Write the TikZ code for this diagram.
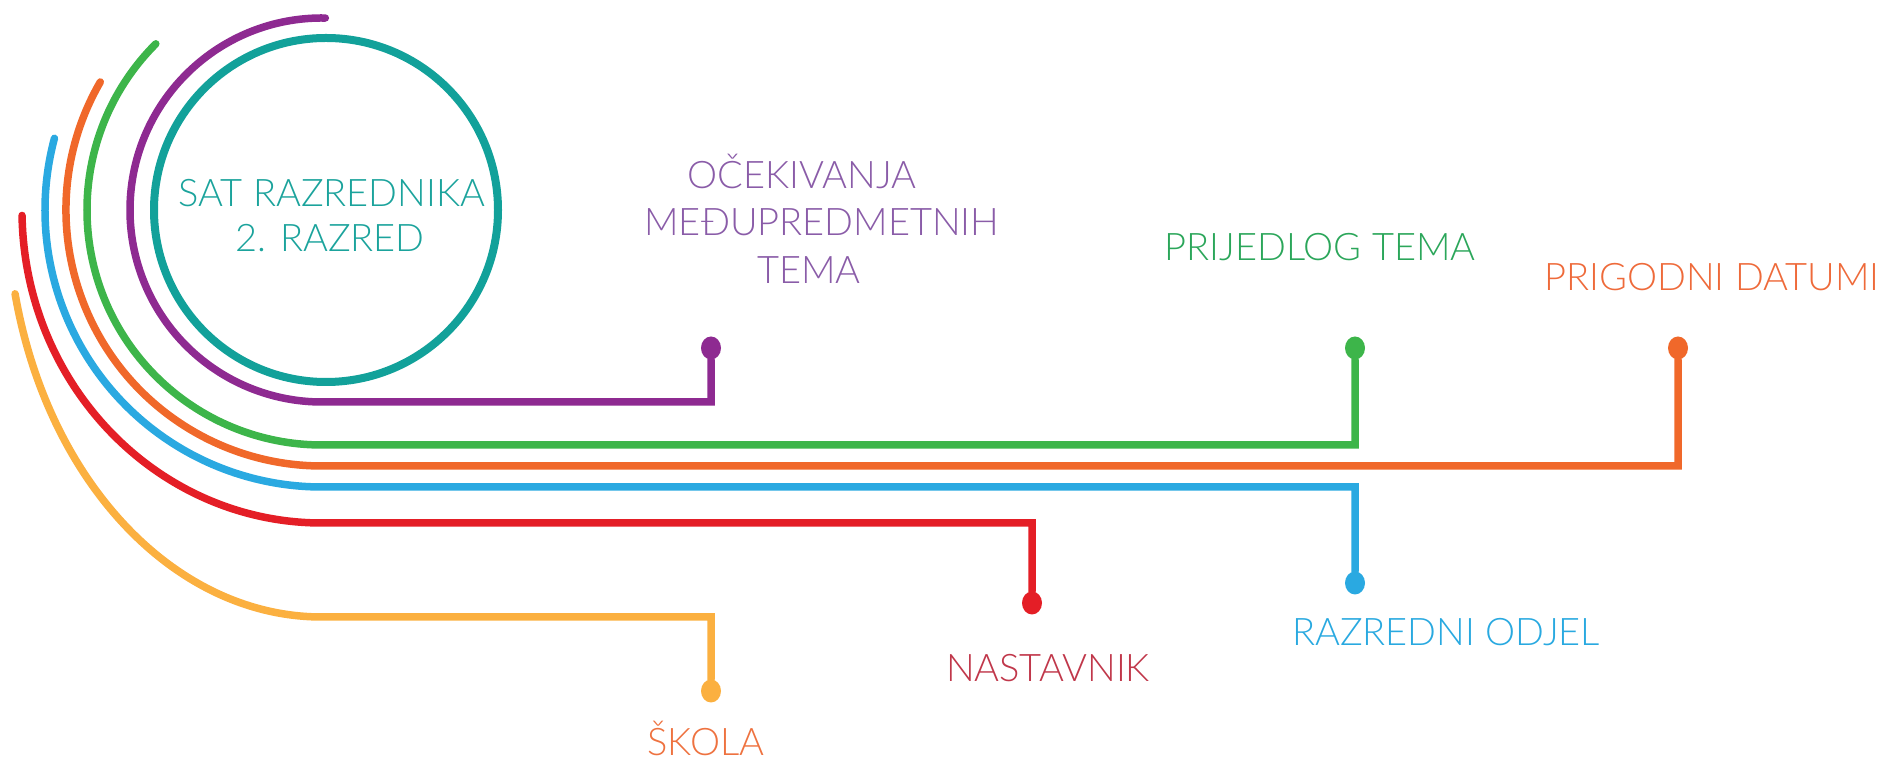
\documentclass[tikz,border=0pt]{standalone}
\usepackage{fontspec}
\setmainfont{Lato Light}
\usetikzlibrary{shapes.geometric}
\definecolor{cTeal}{HTML}{12A19A}
\definecolor{cTealT}{HTML}{1BA39C}
\definecolor{cPurple}{HTML}{8E2A91}
\definecolor{cPurpleT}{HTML}{8A5CA8}
\definecolor{cGreen}{HTML}{3DB54A}
\definecolor{cGreenT}{HTML}{2BA65A}
\definecolor{cOrange}{HTML}{F0682A}
\definecolor{cOrangeT}{HTML}{EE6A3A}
\definecolor{cBlue}{HTML}{2AA9E1}
\definecolor{cBlueT}{HTML}{29A9E0}
\definecolor{cRed}{HTML}{E41E26}
\definecolor{cRedT}{HTML}{C0374A}
\definecolor{cYellow}{HTML}{FBB040}
\definecolor{cSkolaT}{HTML}{EE7240}
\tikzset{
  wire/.style={line width=7.5pt, line cap=round, line join=miter},
  dotnode/.style={ellipse, inner sep=0pt, minimum width=20pt, minimum height=23pt, fill=#1},
  lbl/.style={anchor=base, inner sep=0pt, text=#1, font=\fontsize{38}{46}\selectfont}
}
\begin{document}
\begin{tikzpicture}[x=1pt,y=1pt]
\useasboundingbox (0,0) rectangle (1887,762);
% centre of the concentric arcs
\coordinate (C) at (322,552);
\coordinate (CY) at (322,562);
% main circle
\node[circle, draw=cTeal, line width=8pt, minimum size=344pt, inner sep=0pt] (main) at (326,552) {};
\node[lbl=cTealT] (t1a) at (332,555) {SAT RAZREDNIKA};
\node[lbl=cTealT] (t1b) at (330,510) {2. RAZRED};
% dots
\node[dotnode=cPurple] (dP) at (711,414) {};
\node[dotnode=cGreen]  (dG) at (1355,414) {};
\node[dotnode=cOrange] (dO) at (1678,414) {};
\node[dotnode=cBlue]   (dB) at (1355,179) {};
\node[dotnode=cRed]    (dR) at (1032,159) {};
\node[dotnode=cYellow] (dY) at (711,71) {};
% start points of the arcs
\coordinate (sP) at ([shift={(89:192pt)}]C);
\coordinate (sG) at ([shift={(135:235pt)}]C);
\coordinate (sO) at ([shift={(150:256pt)}]C);
\coordinate (sB) at ([shift={(165:277pt)}]C);
\coordinate (sR) at ([shift={(181:300pt and 313pt)}]C);
\coordinate (sY) at ([shift={(193:315pt and 417pt)}]CY);
% wires
\draw[wire, cPurple] (sP) arc[start angle=89, end angle=270, radius=192pt] -| (dP);
\draw[wire, cGreen]  (sG) arc[start angle=135, end angle=270, radius=235pt] -| (dG);
\draw[wire, cOrange] (sO) arc[start angle=150, end angle=270, radius=256pt] -| (dO);
\draw[wire, cBlue]   (sB) arc[start angle=165, end angle=270, radius=277pt] -| (dB);
\draw[wire, cRed]    (sR) arc[start angle=181, end angle=270, x radius=300pt, y radius=313pt] -| (dR);
\draw[wire, cYellow] (sY) arc[start angle=193, end angle=270, x radius=315pt, y radius=417pt] -| (dY);
% labels
\node[lbl=cPurpleT] (t2a) at (802,573) {OČEKIVANJA};
\node[lbl=cPurpleT] (t2b) at (822,526) {MEĐUPREDMETNIH};
\node[lbl=cPurpleT] (t2c) at (809,478) {TEMA};
\node[lbl=cGreenT]  (t3) at (1320,501) {PRIJEDLOG TEMA};
\node[lbl=cOrangeT] (t4) at (1712,471) {PRIGODNI DATUMI};
\node[lbl=cBlueT]   (t5) at (1446,116) {RAZREDNI ODJEL};
\node[lbl=cRedT]    (t6) at (1048,80) {NASTAVNIK};
\node[lbl=cSkolaT]  (t7) at (706,6) {ŠKOLA};
\end{tikzpicture}
\end{document}
